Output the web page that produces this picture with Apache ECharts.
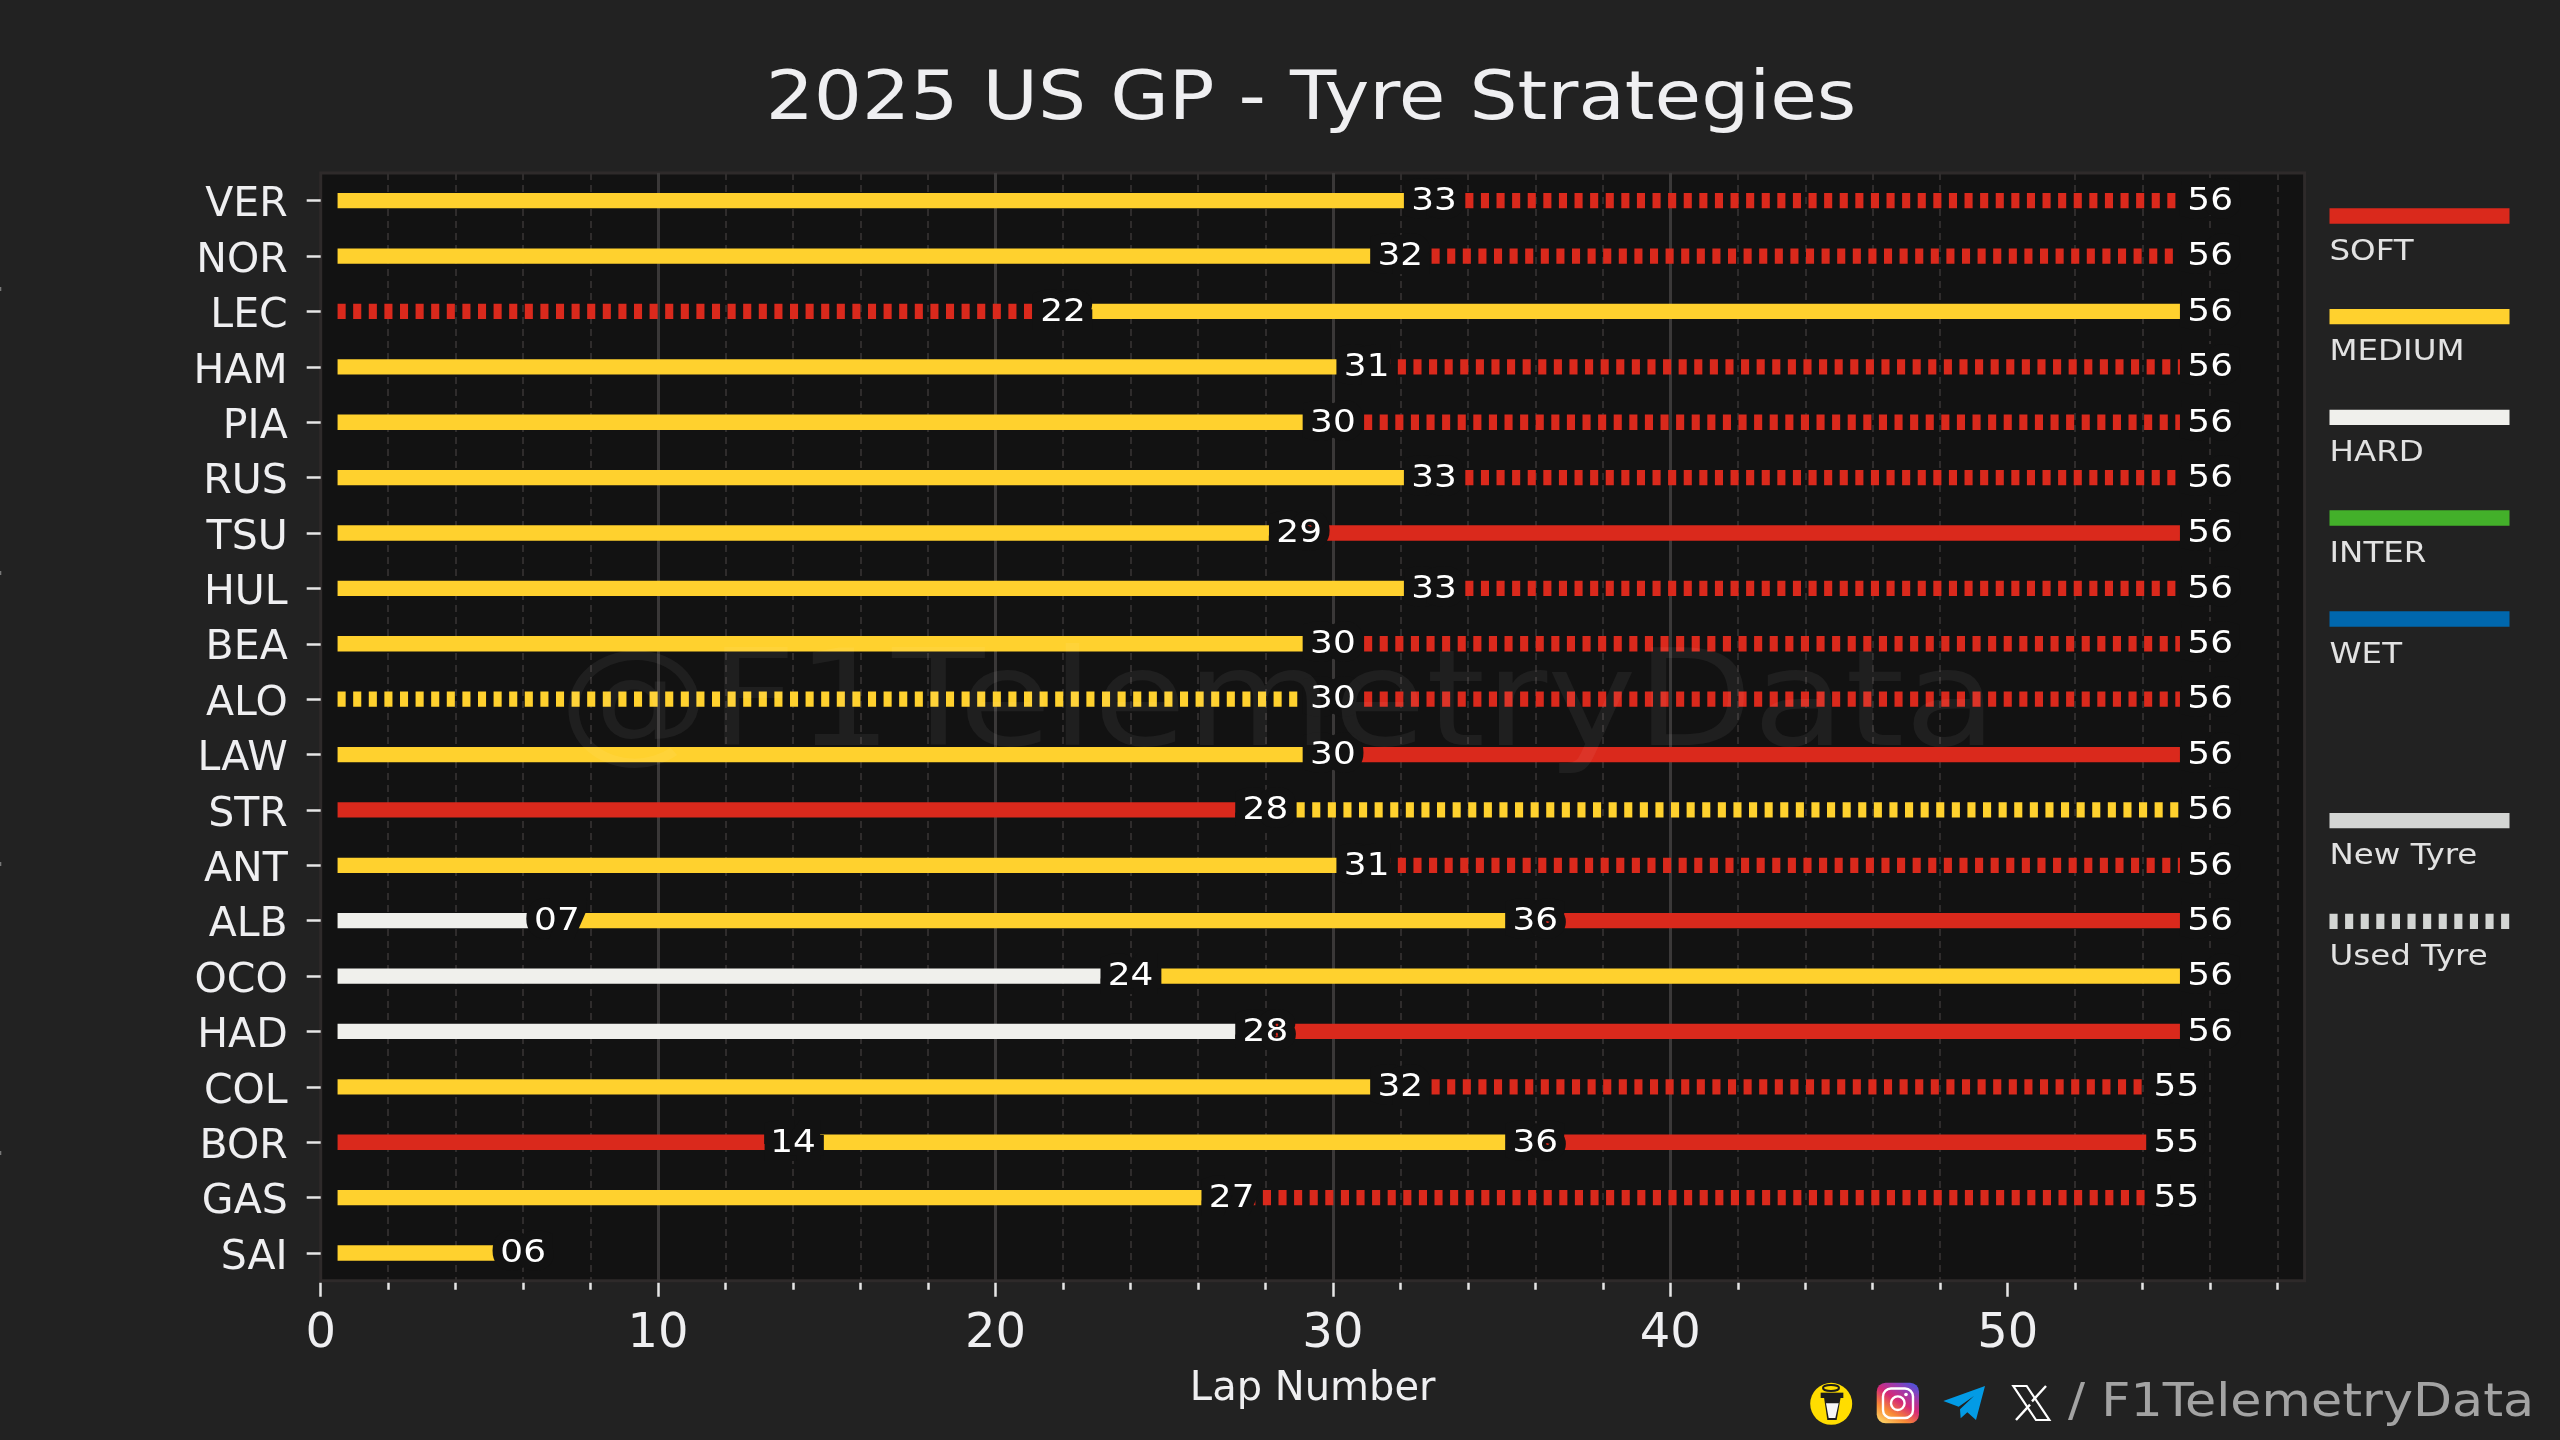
<!DOCTYPE html>
<html>
<head>
<meta charset="utf-8">
<style>html,body{margin:0;padding:0;background:#222222}#c{width:2560px;height:1440px}</style>
<script src="https://cdn.jsdelivr.net/npm/echarts@6/dist/echarts.min.js"></script>
</head>
<body>
<div id="c"></div>
<script>
const drivers = ['VER','NOR','LEC','HAM','PIA','RUS','TSU','HUL','BEA','ALO','LAW','STR','ANT','ALB','OCO','HAD','COL','BOR','GAS','SAI'];
const stintEndLaps = [[33,56],[32,56],[22,56],[31,56],[30,56],[33,56],[29,56],[33,56],[30,56],[30,56],[30,56],[28,56],[31,56],[7,36,56],[24,56],[28,56],[32,55],[14,36,55],[27,55],[6]];
const stintCompounds = [['MEDIUM','SOFT'],['MEDIUM','SOFT'],['SOFT','MEDIUM'],['MEDIUM','SOFT'],['MEDIUM','SOFT'],['MEDIUM','SOFT'],['MEDIUM','SOFT'],['MEDIUM','SOFT'],['MEDIUM','SOFT'],['MEDIUM','SOFT'],['MEDIUM','SOFT'],['SOFT','MEDIUM'],['MEDIUM','SOFT'],['HARD','MEDIUM','SOFT'],['HARD','MEDIUM'],['HARD','SOFT'],['MEDIUM','SOFT'],['SOFT','MEDIUM','SOFT'],['MEDIUM','SOFT'],['MEDIUM']];
const stintUsed = [[0,1],[0,1],[1,0],[0,1],[0,1],[0,1],[0,0],[0,1],[0,1],[1,1],[0,0],[0,1],[0,1],[0,0,0],[0,0],[0,0],[0,1],[0,0,0],[0,1],[0]];
const compoundNames = ['SOFT','MEDIUM','HARD','INTER','WET'];
const compoundColors = ['#DA291C','#FFD12E','#F0F0EC','#43B02A','#0067AD'];
const majorTicks = [0,10,20,30,40,50];
const minorTicks = [2,4,6,8,12,14,16,18,22,24,26,28,32,34,36,38,42,44,46,48,52,54,56,58];
const xMax = 58.8;
const raceStart = 0.5;

const FONT = '"DejaVu Sans"';
const TXT = '#EFEFF1';
const stintData = [];
const labelData = [];
drivers.forEach((d, i) => {
  let start = raceStart;
  stintEndLaps[i].forEach((end, k) => {
    stintData.push([i, start, end, compoundNames.indexOf(stintCompounds[i][k]), stintUsed[i][k]]);
    labelData.push([end, i]);
    start = end;
  });
});

const BAR_W = 15.3, DASH = [8.1, 7.5];

/* decorations */
const graphics = [];
// title
graphics.push({type:'text', x:1311, y:101, scaleX:1.114, style:{text:'2025 US GP - Tyre Strategies', fill:TXT, font:'68px '+FONT, align:'center', verticalAlign:'middle'}, silent:true});
// legend
const lgX = 2329.5, lgW = 180;
const lgEntries = [
  ['SOFT', compoundColors[0], 216, false], ['MEDIUM', compoundColors[1], 316.7, false], ['HARD', compoundColors[2], 417.3, false],
  ['INTER', compoundColors[3], 518, false], ['WET', compoundColors[4], 619, false],
  ['New Tyre', '#D3D5D3', 820.7, false], ['Used Tyre', '#D3D5D3', 921.3, true]
];
lgEntries.forEach(([name, col, y, dashed]) => {
  graphics.push({type:'line', shape:{x1:lgX, y1:y, x2:lgX+lgW, y2:y}, style:{stroke:col, lineWidth:BAR_W, lineDash: dashed ? DASH : null}, silent:true});
  graphics.push({type:'text', x:lgX, y:y+36, scaleX:1.12, style:{text:name, fill:'#E2E2E2', font:'29px '+FONT, align:'left', verticalAlign:'middle'}, silent:true});
});
// watermark
graphics.push({type:'text', x:1277.7, y:710, z:50, scaleX:1.126, style:{text:'@F1TelemetryData', fill:'rgba(255,255,255,0.055)', font:'134px '+FONT, align:'center', verticalAlign:'middle'}, silent:true});
// footer handle
graphics.push({type:'text', x:2068, y:1404, scaleX:1.103, style:{text:'/ F1TelemetryData', fill:'#A3A3A3', font:'46px '+FONT, align:'left', verticalAlign:'middle'}, silent:true});
// faint marks on the left edge
[287, 571, 862, 1151].forEach(y => graphics.push({type:'rect', shape:{x:0, y:y, width:1.3, height:4}, style:{fill:'#777777'}, silent:true}));
// crop-space helper for icons (3x crop of the footer)
const P = (x, y) => [1800 + x/3, 1370 + y/3];
const poly = (pts, style) => graphics.push({type:'polygon', shape:{points:pts.map(p=>P(p[0],p[1]))}, style, silent:true});
// coffee icon
graphics.push({type:'circle', shape:{cx:1831.2, cy:1403.8, r:21}, style:{fill:'#FFDD00'}, silent:true});
poly([[72,82],[122,82],[110,150],[82,150]], {fill:'#1C1C1C'});
poly([[78,100],[116,100],[106,144],[86,144]], {fill:'#F6F6F6'});
poly([[62,68],[130,68],[130,84],[62,84]], {fill:'#1C1C1C'});
graphics.push({type:'ellipse', shape:{cx:1831, cy:1388, rx:8, ry:3}, style:{fill:'#FFDD00', stroke:'#1C1C1C', lineWidth:2}, silent:true});
// instagram icon
graphics.push({type:'rect', shape:{x:1876.7, y:1382.7, width:42.3, height:40.6, r:9}, silent:true, style:{fill:{type:'linear', x:0.2, y:1, x2:0.8, y2:0, colorStops:[{offset:0,color:'#FCCB60'},{offset:0.25,color:'#F98A35'},{offset:0.55,color:'#D62976'},{offset:0.8,color:'#9A3CB0'},{offset:1,color:'#5551D8'}]}}});
graphics.push({type:'rect', shape:{x:1883, y:1388.5, width:30, height:29.5, r:8}, style:{fill:'none', stroke:'#FFFFFF', lineWidth:2.4}, silent:true});
graphics.push({type:'circle', shape:{cx:1897.8, cy:1403.2, r:6.8}, style:{fill:'none', stroke:'#FFFFFF', lineWidth:2.4}, silent:true});
graphics.push({type:'circle', shape:{cx:1906, cy:1394.5, r:1.8}, style:{fill:'#FFFFFF'}, silent:true});
// telegram icon
poly([[555,48],[430,93],[476,110],[522,78],[480,118],[482,145],[502,127],[528,150]], {fill:'#039BE5'});
// X icon
poly([[640,48],[680,48],[748,150],[708,150]], {fill:'none', stroke:'#FFFFFF', lineWidth:2.2});
graphics.push({type:'polyline', shape:{points:[P(738,48),P(696,94)]}, style:{stroke:'#FFFFFF', lineWidth:2.4, fill:'none'}, silent:true});
graphics.push({type:'polyline', shape:{points:[P(690,104),P(648,150)]}, style:{stroke:'#FFFFFF', lineWidth:2.4, fill:'none'}, silent:true});

const chart = echarts.init(document.getElementById('c'), null, {renderer:'canvas', devicePixelRatio:1, width:2560, height:1440});
chart.setOption({
  animation:false,
  backgroundColor:'#222222',
  grid:{show:true, left:320.7, top:173, width:1983.9, height:1107.7, backgroundColor:'#121212', borderColor:'#2E2A2A', borderWidth:3, containLabel:false},
  xAxis:[
    {type:'value', position:'bottom', min:0, max:xMax, offset:2,
     axisLine:{show:false},
     axisTick:{show:true, customValues:majorTicks, length:14, lineStyle:{color:'#E6E6E6', width:2.5}},
     axisLabel:{show:true, customValues:majorTicks, color:TXT, fontFamily:FONT, fontSize:48, margin:27.5, formatter:v=>String(v)},
     splitLine:{show:true, showMinLine:false, showMaxLine:false, lineStyle:{color:'#3A3838', width:3}},
     name:'Lap Number', nameLocation:'middle', nameGap:87, nameTextStyle:{color:TXT, fontFamily:FONT, fontSize:40}},
    {type:'value', position:'bottom', min:0, max:xMax, offset:2,
     axisLine:{show:false},
     axisTick:{show:true, customValues:minorTicks, length:7, lineStyle:{color:'#E6E6E6', width:2.5}},
     axisLabel:{show:false},
     splitLine:{show:true, lineStyle:{color:'#2F2C2C', width:2, type:[7,5]}}}
  ],
  yAxis:{type:'category', inverse:true, data:drivers, offset:2,
    axisLine:{show:false},
    axisTick:{show:true, alignWithLabel:true, length:14, lineStyle:{color:'#E6E6E6', width:2.5}},
    axisLabel:{color:TXT, fontFamily:FONT, fontSize:41, margin:31, verticalAlign:'top', lineHeight:10},
    splitLine:{show:false}},
  series:[
    {type:'custom', name:'Stints', coordinateSystem:'cartesian2d', xAxisIndex:0, yAxisIndex:0, z:3, clip:true, silent:true,
     encode:{x:[1,2], y:0}, data:stintData,
     renderItem:(params, api)=>{
       const a = api.coord([api.value(1), api.value(0)]);
       const b = api.coord([api.value(2), api.value(0)]);
       return {type:'line', shape:{x1:a[0], y1:a[1], x2:b[0], y2:b[1]},
         style:{stroke:compoundColors[api.value(3)], lineWidth:BAR_W, fill:null, lineCap:'butt', lineDash: api.value(4) ? DASH : null}};
     }},
    {type:'custom', name:'Stint end laps', coordinateSystem:'cartesian2d', xAxisIndex:0, yAxisIndex:0, z:4, clip:false, silent:true,
     encode:{x:0, y:1}, data:labelData,
     renderItem:(params, api)=>{
       const a = api.coord([api.value(0), api.value(1)]);
       return {type:'text', x:a[0], y:a[1]+1, scaleX:1.12,
         style:{text:String(api.value(0)).padStart(2,'0'), fill:'#FFFFFF', stroke:'#121212', lineWidth:18, lineJoin:'round',
                font:'32px '+FONT, align:'center', verticalAlign:'middle'}};
     }}
  ],
  graphic:{elements:graphics}
});
</script>
</body>
</html>
